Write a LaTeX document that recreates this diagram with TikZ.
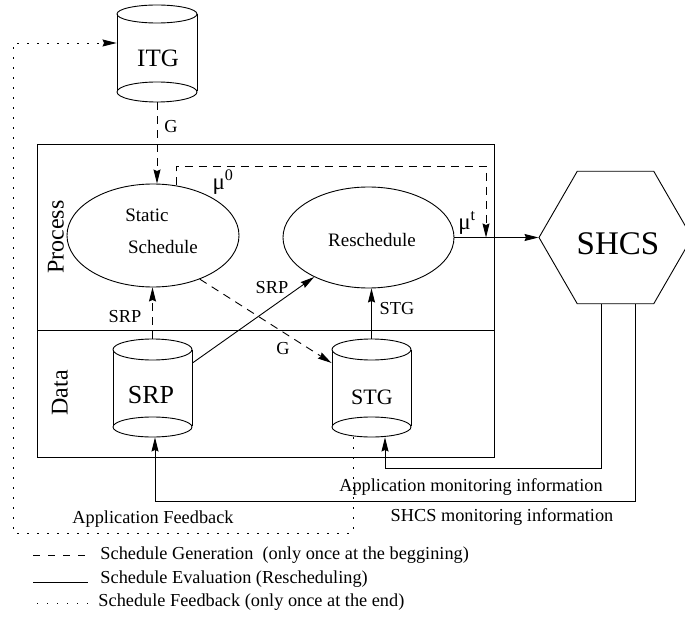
\documentclass[tikz,border=0pt]{standalone}
\usepackage{fontspec}
\setmainfont{Liberation Serif}
\usetikzlibrary{arrows.meta,shapes.geometric}
\newcommand\fsz[1]{\fontsize{#1}{#1}\selectfont}
\tikzset{
  tip/.style={-{Stealth[length=14pt,width=7pt,inset=1.5pt]}},
  gen/.style={dash pattern=on 8pt off 6pt},
  legdash/.style={dash pattern=on 7pt off 8pt},
  fb/.style={dash pattern=on 1.3pt off 8.7pt},
  lbl/.style={inner sep=0pt,font=\fsz{18.3}},
  inlbl/.style={inner sep=0pt,font=\fsz{19}},
  cylbox/.style={inner sep=0pt,minimum width=#1,minimum height=98pt},
  proc/.style={draw,ellipse,inner sep=0pt},
  mulbl/.style={inner sep=0pt,font=\fsz{23}},
}
\begin{document}
\begin{tikzpicture}[x=1pt,y=-1pt,line width=0.9pt]
\useasboundingbox (0,0) rectangle (685,628);
\clip (0,0) rectangle (685,628);

% process / data frame
\draw (37,144) rectangle (494,457);
\draw (37,330) -- (494,330);
\node[inner sep=0pt,rotate=90,font=\fsz{24}] (proclbl) at (56,237) {Process};
\node[inner sep=0pt,rotate=90,font=\fsz{24}] (datalbl) at (60,393) {Data};

% ITG store
\node[cylbox=80pt,minimum height=97pt] (itg) at (157,53.5) {};
\draw (117,14) -- (117,91) (197,14) -- (197,91);
\draw (157,14) ellipse [x radius=40,y radius=9];
\draw (157,92) ellipse [x radius=40,y radius=10];
\node[inner sep=0pt,font=\fsz{25}] (itgtxt) at (158,58) {ITG};

% SRP store
\node[cylbox=79pt] (srp) at (152.5,388) {};
\draw (113,349.5) -- (113,426) (192,349.5) -- (192,426);
\draw (152.5,349.5) ellipse [x radius=39.5,y radius=10.5];
\draw (152.5,427) ellipse [x radius=39.5,y radius=10];
\node[inner sep=0pt,font=\fsz{26}] (srptxt) at (151,395) {SRP};

% STG store
\node[cylbox=79pt] (stg) at (371.5,388) {};
\draw (332,349.5) -- (332,426) (411,349.5) -- (411,426);
\draw (371.5,349.5) ellipse [x radius=39.5,y radius=10.5];
\draw (371.5,427) ellipse [x radius=39.5,y radius=10];
\node[inner sep=0pt,font=\fsz{22}] (stgtxt) at (372,397) {STG};

% processes
\node[proc,minimum width=172pt,minimum height=103pt] (static) at (153,235.5) {};
\node[inlbl] (statictxt) at (147,215) {Static};
\node[inlbl] (schedtxt) at (163,247) {Schedule};
\node[proc,minimum width=171pt,minimum height=101pt] (resched) at (368.5,237.5) {};
\node[inlbl] (reschedtxt) at (372,240) {Reschedule};

% system
\node[draw,regular polygon,regular polygon sides=6,minimum size=153pt,inner sep=0pt] (shcs) at (615.5,237.5) {};
\node[inner sep=0pt,font=\fsz{33}] (shcstxt) at (618,244) {SHCS};

% schedule generation
\draw[gen,tip] (itg.south) -- (static.north -| itg.south);
\node[lbl,anchor=west] (g1) at (164,127) {G};
\draw[gen,tip] (srp.north) -- (static.south -| srp.north);
\node[lbl] (srp1) at (125,317) {SRP};
\draw[gen,tip] (static.-43) -- ([yshift=25pt]stg.west);
\node[lbl] (g2) at (283,349) {G};
\coordinate (mutop) at (486,166);
\draw[gen,tip] (static.65) |- (mutop) -- (mutop |- resched.east);
\node[mulbl] (mu0) at (223,182) {μ\textsuperscript{0}};
\node[mulbl] (mut) at (467,223) {μ\textsuperscript{t}};

% schedule evaluation
\draw[tip] ([yshift=25pt]srp.east) -- (resched.-144);
\node[lbl] (srp2) at (272,288) {SRP};
\draw[tip] (stg.north) -- (stg.north |- resched.south);
\node[lbl] (stg1) at (397,309) {STG};
\draw[tip] (resched.east) -- (shcs.west);

% monitoring feedback
\coordinate (appmon) at (385,468);
\draw[tip] ([xshift=-14.5pt]shcs.south) |- (appmon) -- (appmon |- stg.south);
\node[lbl] (appmontxt) at (471,487) {Application monitoring information};
\coordinate (sysmon) at (155,501);
\draw[tip] ([xshift=19.5pt]shcs.south) |- (sysmon) -- (sysmon |- srp.south);
\node[lbl] (sysmontxt) at (502,517) {SHCS monitoring information};

% schedule feedback
\coordinate (fbcorner) at (13,533);
\coordinate (fbtop) at (13,43);
\draw[fb,tip] ([xshift=-18.5pt]stg.south) |- (fbcorner) -- (fbtop) -- (fbtop -| itg.west);
\node[lbl] (fbtxt) at (153,519) {Application Feedback};

% legend
\draw[legdash] (33,555) -- (88,555);
\node[lbl,anchor=west] (leg1) at (100,555) {Schedule Generation\ \ (only once at the beggining)};
\draw (33,582) -- (88,582);
\node[lbl,anchor=west] (leg2) at (100,579) {Schedule Evaluation (Rescheduling)};
\draw[fb] (37,603) -- (88,603);
\node[lbl,anchor=west] (leg3) at (98,602) {Schedule Feedback (only once at the end)};
\end{tikzpicture}
\end{document}
